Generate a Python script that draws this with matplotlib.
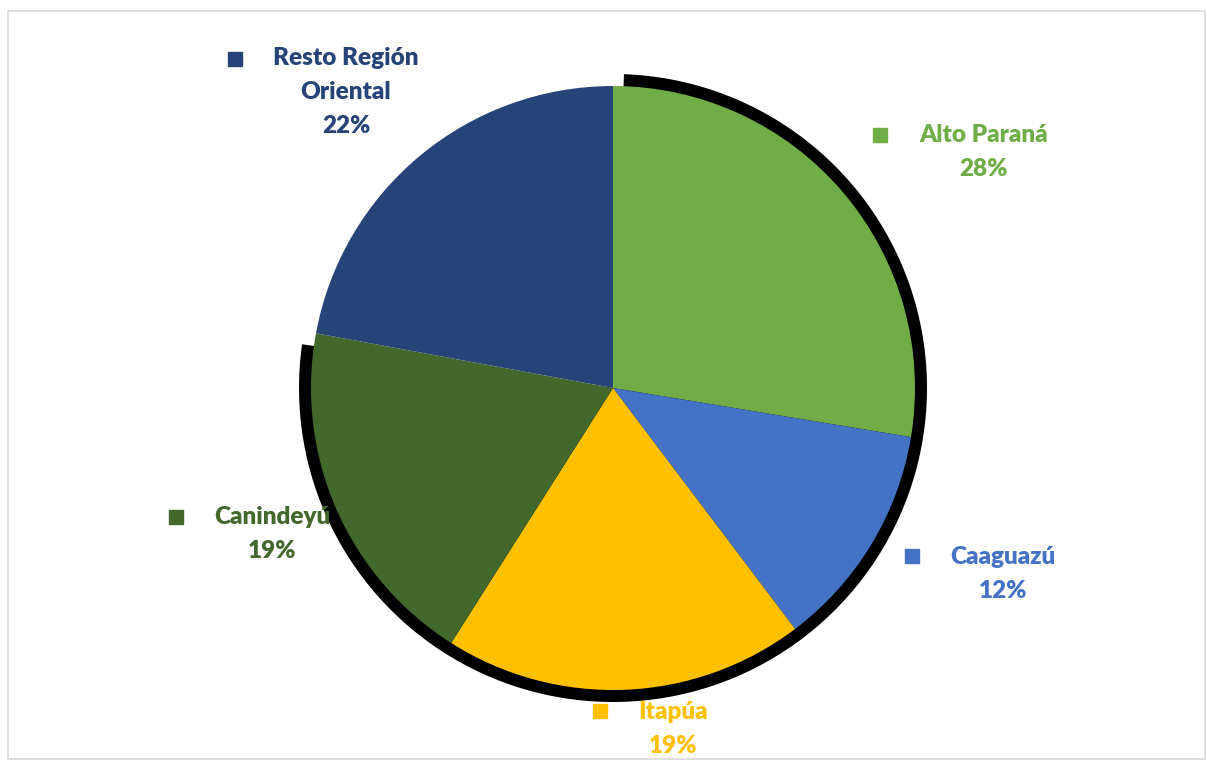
import matplotlib.pyplot as plt
from matplotlib.patches import Wedge, Rectangle

regiones = ["Alto Paraná", "Caaguazú", "Itapúa", "Canindeyú", "Resto Región\nOriental"]
porcentajes = [27.6, 12.1, 19.3, 18.9, 22.1]
colores = ["#70AD47", "#4472C4", "#FFC000", "#43682B", "#264478"]

# posiciones de las etiquetas (pixeles, origen arriba a la izquierda)
pos_cuadro = [(880, 135), (912, 556), (600, 711), (176, 517), (235, 59)]
pos_texto = [(984, 152), (1003, 574), (673, 729), (272, 534), (346, 92)]

W, H = 1207, 761
fig = plt.figure(figsize=(W / 100, H / 100), dpi=100)
ax = fig.add_axes([0, 0, 1, 1])

ax.add_patch(Rectangle((8, H - 759), 1197, 748, fill=False, edgecolor="#D9D9D9", linewidth=1.2))

cx, cy, r = 613, H - 388, 302
ax.add_patch(Wedge((cx, cy), r + 12, -188, 88, facecolor="black", edgecolor="none"))

ax.pie(porcentajes, colors=colores, startangle=90, counterclock=False,
       center=(cx, cy), radius=r, wedgeprops=dict(linewidth=0), frame=True)
ax.set_xlim(0, W)
ax.set_ylim(0, H)
ax.set_aspect("equal")
ax.axis("off")

for nombre, p, c, (qx, qy), (tx, ty) in zip(regiones, porcentajes, colores, pos_cuadro, pos_texto):
    ax.plot(qx, H - qy, marker="s", markersize=10.5, color=c, linestyle="none")
    ax.text(tx, H - ty, f"{nombre}\n{p:.0f}%", color=c, ha="center", va="center",
            fontsize=17.5, fontweight="heavy", family="Lato", linespacing=1.65)

fig.savefig("out.png", dpi=100)
